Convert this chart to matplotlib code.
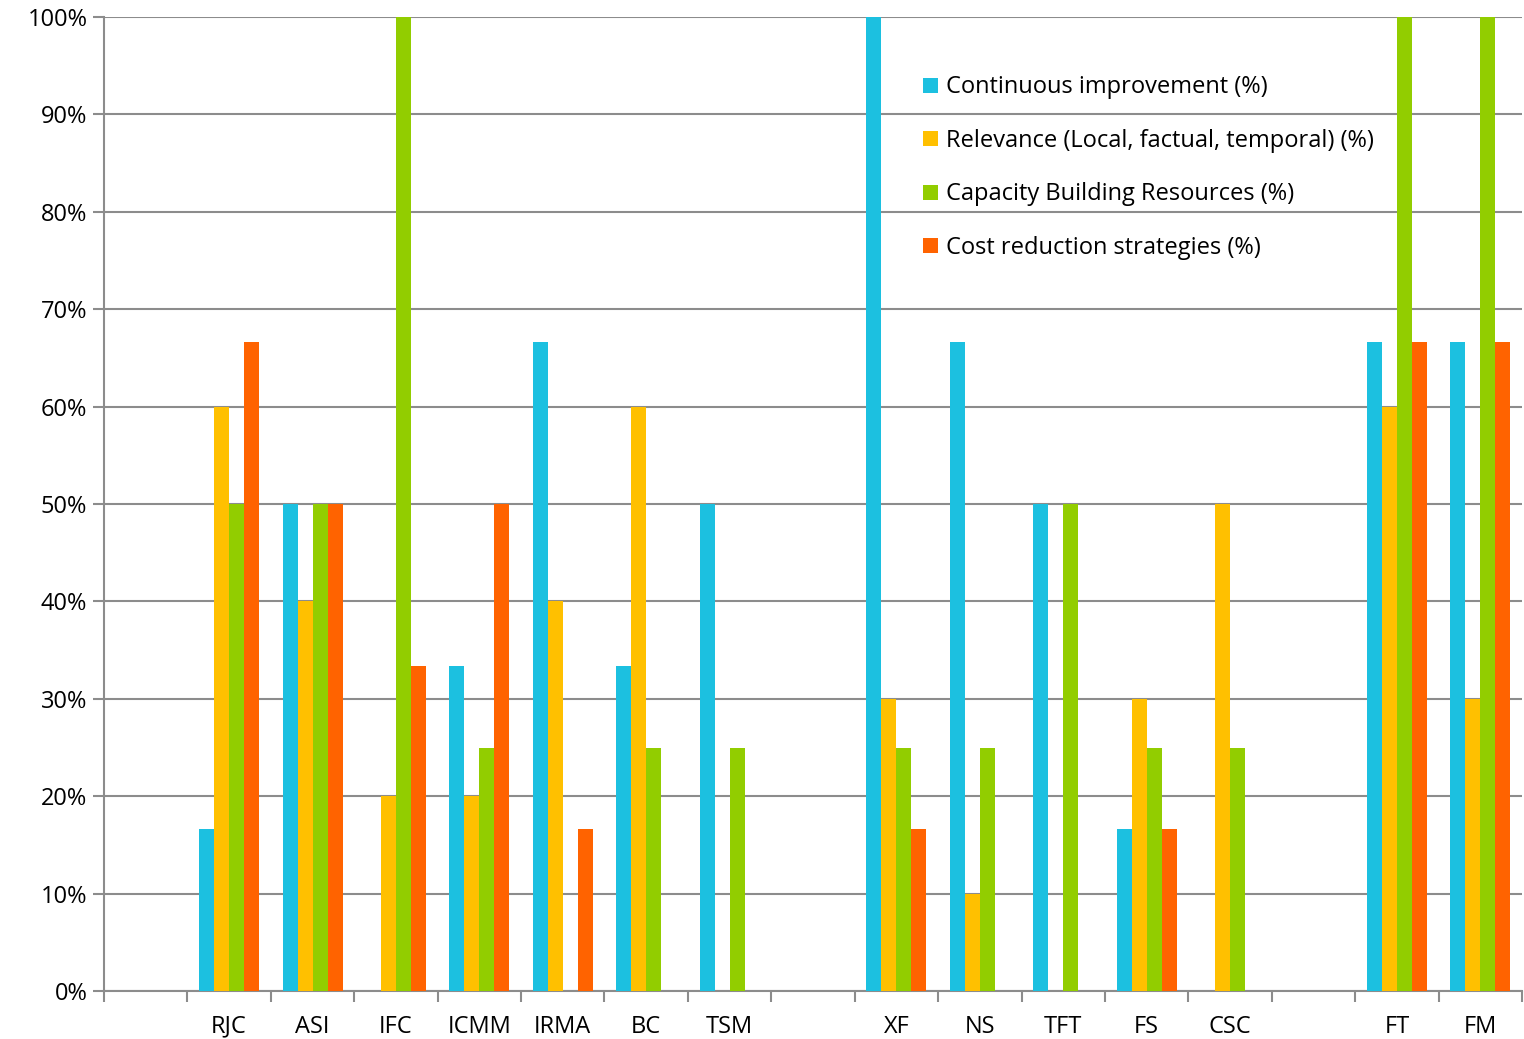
import matplotlib.pyplot as plt
import numpy as np

# Data
categories = ['', 'RJC', 'ASI', 'IFC', 'ICMM', 'IRMA', 'BC', 'TSM', '',
              'XF', 'NS', 'TFT', 'FS', 'CSC', '', 'FT', 'FM']
continuous = [0, 16.67, 50, 0, 33.33, 66.67, 33.33, 50, 0,
              100, 66.67, 50, 16.67, 0, 0, 66.67, 66.67]
relevance = [0, 60, 40, 20, 20, 40, 60, 0, 0,
             30, 10, 0, 30, 50, 0, 60, 30]
capacity = [0, 50, 50, 100, 25, 0, 25, 25, 0,
            25, 25, 50, 25, 25, 0, 100, 100]
cost = [0, 66.67, 50, 33.33, 50, 16.67, 0, 0, 0,
        16.67, 0, 0, 16.67, 0, 0, 66.67, 66.67]

series = {
    'Continuous improvement (%)': continuous,
    'Relevance (Local, factual, temporal) (%)': relevance,
    'Capacity Building Resources (%)': capacity,
    'Cost reduction strategies (%)': cost,
}
colors = ['#1CC0E0', '#FFC000', '#92CD00', '#FF6300']

plt.rcParams['font.family'] = ['Open Sans', 'DejaVu Sans']

fig = plt.figure(figsize=(15.24, 10.39), dpi=100)
ax = fig.add_axes([104/1524, 48/1039, 1418/1524, 974/1039])

x = np.arange(len(categories))
width = 0.18
for i, (name, vals) in enumerate(series.items()):
    ax.bar(x + (i - 1.5) * width, vals, width, color=colors[i], label=name,
           linewidth=0, zorder=3)

ax.set_xlim(-0.5, len(categories) - 0.5)
ax.set_ylim(0, 100)
ax.set_yticks(np.arange(0, 101, 10))
ax.set_yticklabels([f'{v}%' for v in range(0, 101, 10)], fontsize=17)
ax.yaxis.grid(True, color='#8c8c8c', linewidth=1.5, zorder=0)

ax.set_xticks(x)
ax.set_xticklabels(categories, fontsize=17)
ax.set_xticks(np.arange(-0.5, len(categories)), minor=True)
ax.tick_params(axis='x', which='major', length=0, pad=17)
ax.tick_params(axis='x', which='minor', length=8, width=1.5, color='#8c8c8c')
ax.tick_params(axis='y', length=8, width=1.5, color='#8c8c8c', pad=4)

for s in ['top', 'right']:
    ax.spines[s].set_visible(False)
for s in ['left', 'bottom']:
    ax.spines[s].set_color('#8c8c8c')
    ax.spines[s].set_linewidth(1.5)

ax.legend(loc='upper left', bbox_to_anchor=(914/1524, 1 - 66/1039),
          bbox_transform=fig.transFigure, frameon=False, fontsize=17,
          handlelength=0.6, handleheight=0.6, handletextpad=0.35,
          labelspacing=1.25, borderaxespad=0)

plt.savefig('out.png', dpi=100)
